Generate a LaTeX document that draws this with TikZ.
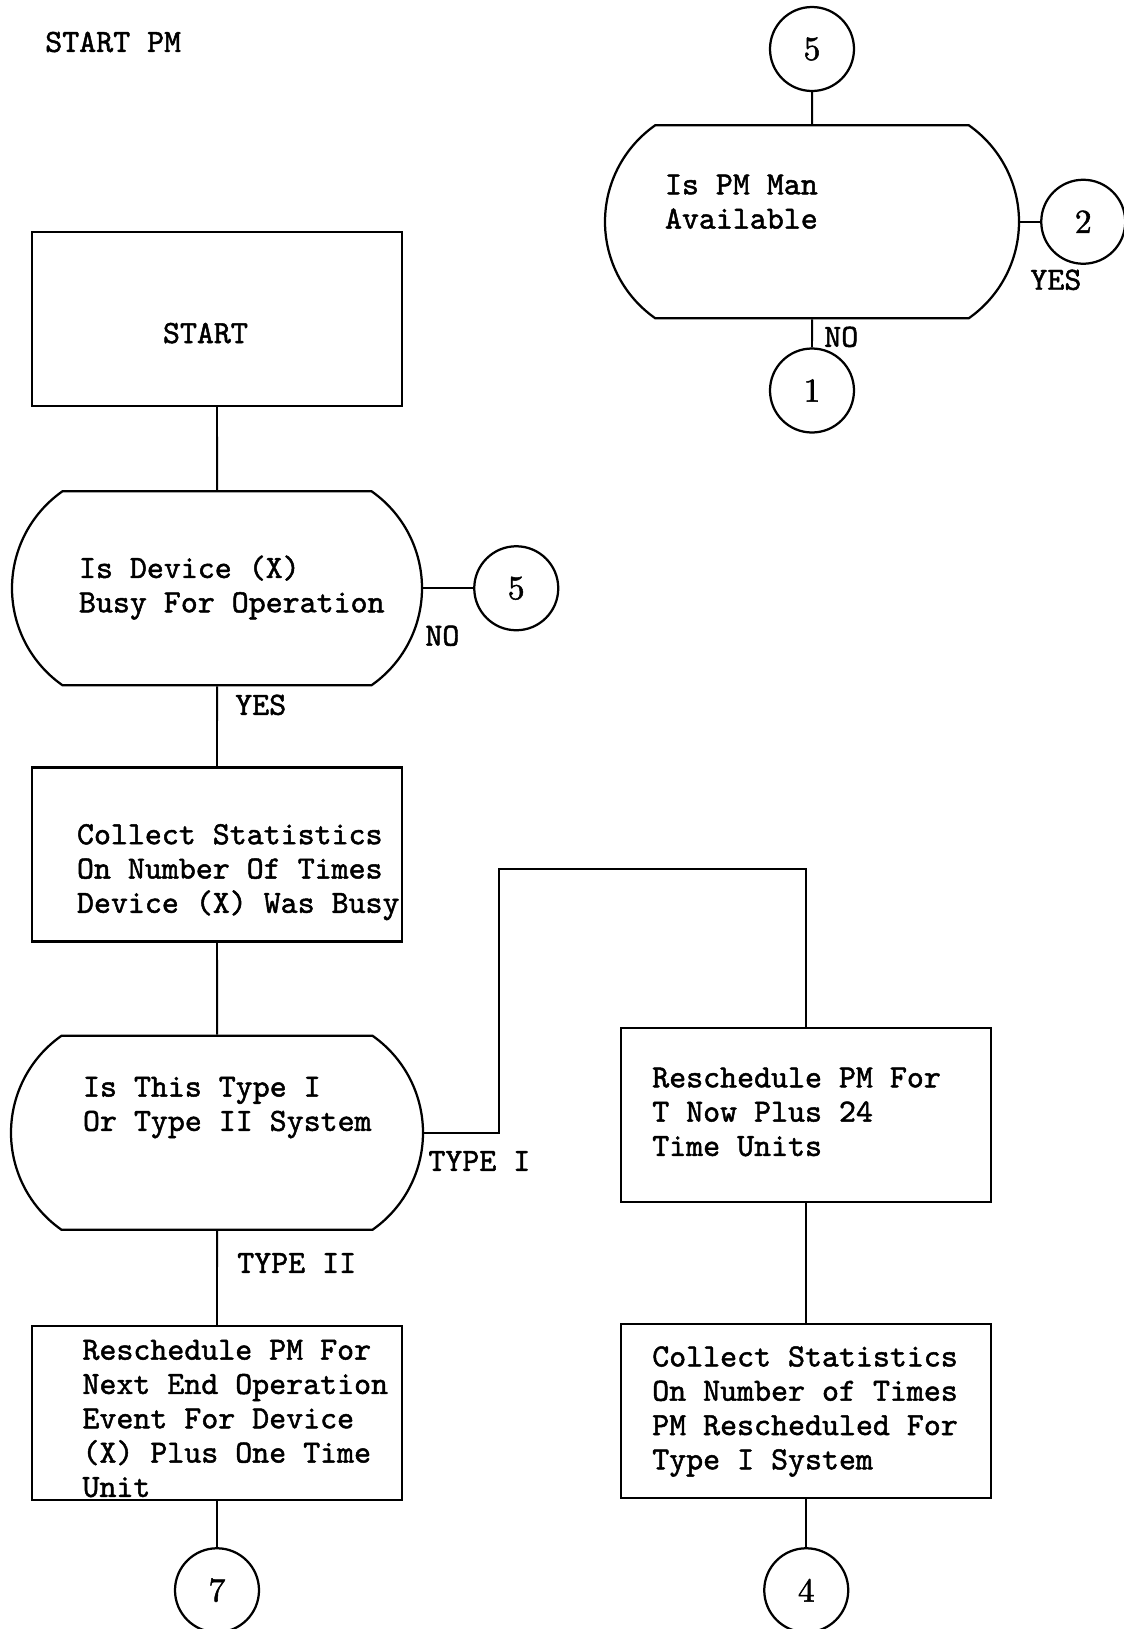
\documentclass[tikz,border=0pt]{standalone}
\usepackage{fontspec}
\setmonofont{lmmono10-regular.otf}[FakeBold=1.5]
\newfontfamily\digitfont{lmroman10-regular.otf}[FakeBold=1.5]
\usepackage{tikz}
\usetikzlibrary{shapes.misc, positioning}

\newcommand{\boxlines}[2]{\makebox[#1][l]{\begin{tabular}{@{}l@{}}#2\end{tabular}}}

\begin{document}
\begin{tikzpicture}[node distance=2cm, auto,
        typer/.style={font=\ttfamily\fontsize{23}{24.4}\selectfont},
        procbox/.style={rectangle, draw, line width=1.6pt, minimum width=9.25cm, minimum height=4.35cm, inner sep=0pt, typer},
        query/.style={rounded rectangle, rounded rectangle arc length=110, draw, line width=1.6pt, minimum width=10.3cm, minimum height=4.85cm, inner sep=0pt, typer},
        conn/.style={circle, draw, line width=1.6pt, minimum size=2.1cm, inner sep=0pt, font=\digitfont\fontsize{24}{24}\selectfont},
        tag/.style={inner sep=0pt, typer},
        line/.style={draw, line width=1.4pt}]

        \useasboundingbox (0,0) rectangle (28.075,-40.725);

        \node [tag, anchor=west] (title) at (1.125,-1.05) {START PM};

        \node [procbox] (start) at (5.425,-7.975) {\boxlines{2.7cm}{\mbox{}\\START}};
        \node [query, below=2.075cm of start, minimum width=10.25cm] (busy) {\boxlines{6.9cm}{Is Device (X)\\Busy For Operation}};
        \node [conn, right=1.25cm of busy] (c5b) {5};
        \node [procbox, below=2.0cm of busy] (stats) {\boxlines{7cm}{\mbox{}\\Collect Statistics\\On Number Of Times\\Device (X) Was Busy}};
        \node [query, below=2.3cm of stats, text height=0pt, text depth=0pt] (systype) {\boxlines{6.7cm}{Is This Type I\\Or Type II System\\\mbox{}}};
        \node [procbox, below=2.35cm of systype, text height=0pt, text depth=0pt] (nextop) {\boxlines{6.725cm}{\mbox{}\\Reschedule PM For\\Next End Operation\\Event For Device\\(X) Plus One Time\\Unit}};
        \node [conn, below=1.15cm of nextop] (c7) {7};

        \node [procbox, right=4.9cm of systype, yshift=0.45cm] (plus24) {\boxlines{7.7cm}{Reschedule PM For\\T Now Plus 24\\Time Units}};
        \node [procbox, below=3cm of plus24] (typeone) {\boxlines{7.7cm}{Collect Statistics\\On Number of Times\\PM Rescheduled For\\Type I System}};
        \node [conn, below=1.2cm of typeone] (c4) {4};

        \node [conn] (c5a) at (20.3,-1.225) {5};
        \node [query, below=0.8cm of c5a, minimum width=10.35cm, minimum height=4.825cm] (pmman) {\boxlines{7.35cm}{Is PM Man\\Available\\\mbox{}}};
        \node [conn, below=0.7cm of pmman] (c1) {1};
        \node [conn, right=0.5cm of pmman] (c2) {2};

        \node [tag, below right=0.925cm and 0.05cm of busy.east] (busyno) {NO};
        \node [tag, below right=0.2cm and 0.45cm of busy.south] (busyyes) {YES};
        \node [tag, below right=0.175cm and 0.3cm of pmman.south] (pmno) {NO};
        \node [tag, below right=1.19cm and 0.25cm of pmman.east] (pmyes) {YES};
        \node [tag, below right=0.45cm and 0.1cm of systype.east] (typei) {TYPE I};
        \node [tag, below right=0.55cm and 0.5cm of systype.south] (typeii) {TYPE II};

        \coordinate [above=3.95cm of plus24.north] (bend);

        \path [line] (start) -- (busy);
        \path [line] (busy) -- (c5b);
        \path [line] (busy) -- (stats);
        \path [line] (stats) -- (systype);
        \path [line] (systype) -- (nextop);
        \path [line] (nextop) -- (c7);
        \path [line] (systype.east) -- ++(1.875,0) |- (bend) -- (plus24);
        \path [line] (plus24) -- (typeone);
        \path [line] (typeone) -- (c4);
        \path [line] (c5a) -- (pmman);
        \path [line] (pmman) -- (c1);
        \path [line] (pmman) -- (c2);
    \end{tikzpicture}
\end{document}
